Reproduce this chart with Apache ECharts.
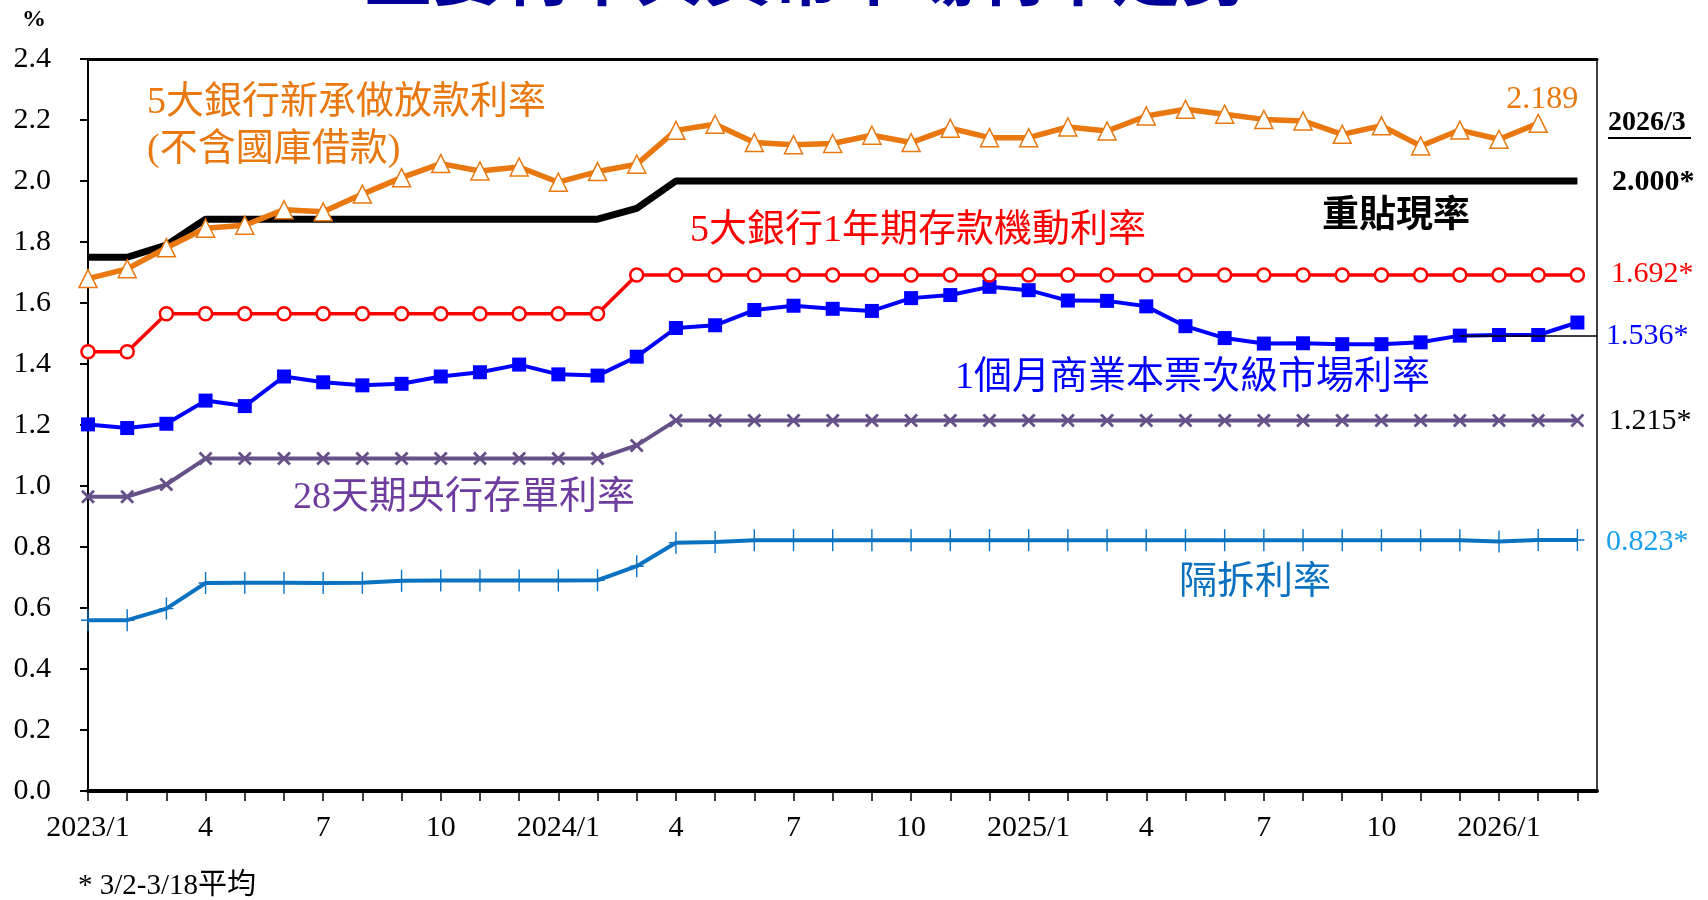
<!DOCTYPE html>
<html>
<head>
<meta charset="utf-8">
<script src="https://cdn.jsdelivr.net/npm/echarts@6/dist/echarts.min.js"></script>
<style>
html,body{margin:0;padding:0;background:#fff;}
#chart{width:1708px;height:900px;}
</style>
</head>
<body>
<div id="chart"></div>
<script>
// ---- data ----
const months = ['2023/1','2023/2','2023/3','2023/4','2023/5','2023/6','2023/7','2023/8','2023/9','2023/10','2023/11','2023/12',
  '2024/1','2024/2','2024/3','2024/4','2024/5','2024/6','2024/7','2024/8','2024/9','2024/10','2024/11','2024/12',
  '2025/1','2025/2','2025/3','2025/4','2025/5','2025/6','2025/7','2025/8','2025/9','2025/10','2025/11','2025/12',
  '2026/1','2026/2','2026/3'];
const xTickLabels = ['2023/1','','','4','','','7','','','10','','',
  '2024/1','','','4','','','7','','','10','','',
  '2025/1','','','4','','','7','','','10','','',
  '2026/1','',''];

const loanRate = [1.680,1.712,1.781,1.845,1.855,1.906,1.899,1.957,2.011,2.057,2.033,2.046,
  1.996,2.031,2.055,2.166,2.186,2.126,2.119,2.123,2.150,2.126,2.173,2.142,
  2.142,2.177,2.164,2.213,2.235,2.219,2.202,2.197,2.153,2.181,2.115,2.167,
  2.137,2.189];
const discountRate = [1.750,1.750,1.790,1.875,1.875,1.875,1.875,1.875,1.875,1.875,1.875,1.875,
  1.875,1.875,1.910,2.000,2.000,2.000,2.000,2.000,2.000,2.000,2.000,2.000,
  2.000,2.000,2.000,2.000,2.000,2.000,2.000,2.000,2.000,2.000,2.000,2.000,
  2.000,2.000,2.000];
const depositRate = [1.440,1.440,1.565,1.565,1.565,1.565,1.565,1.565,1.565,1.565,1.565,1.565,
  1.565,1.565,1.692,1.692,1.692,1.692,1.692,1.692,1.692,1.692,1.692,1.692,
  1.692,1.692,1.692,1.692,1.692,1.692,1.692,1.692,1.692,1.692,1.692,1.692,
  1.692,1.692,1.692];
const cpRate = [1.202,1.190,1.204,1.280,1.262,1.359,1.340,1.330,1.335,1.359,1.373,1.398,
  1.366,1.362,1.424,1.518,1.527,1.577,1.591,1.581,1.574,1.616,1.626,1.653,
  1.642,1.608,1.607,1.589,1.524,1.485,1.467,1.468,1.465,1.465,1.471,1.493,
  1.495,1.495,1.536];
const cdRate = [0.965,0.965,1.005,1.090,1.090,1.090,1.090,1.090,1.090,1.090,1.090,1.090,
  1.090,1.090,1.133,1.215,1.215,1.215,1.215,1.215,1.215,1.215,1.215,1.215,
  1.215,1.215,1.215,1.215,1.215,1.215,1.215,1.215,1.215,1.215,1.215,1.215,
  1.215,1.215,1.215];
const overnightRate = [0.560,0.560,0.598,0.682,0.683,0.683,0.682,0.683,0.689,0.690,0.690,0.690,
  0.690,0.691,0.737,0.814,0.816,0.822,0.822,0.822,0.822,0.822,0.822,0.822,
  0.822,0.822,0.822,0.822,0.822,0.822,0.822,0.822,0.822,0.822,0.822,0.822,
  0.818,0.823,0.823];
const leaderLineValue = 1.493;

// ---- helpers ----
const SERIF = "'Liberation Serif','Noto Sans CJK TC',serif";
const pairs = arr => arr.map((v, i) => [i, v]);
const xMax = months.length - 0.5;
const tickIdx = months.map((m, i) => i);
const labelIdx = xTickLabels.map((l, i) => l ? i : -1).filter(i => i >= 0);

const C_ORANGE = '#E8780F', C_RED = '#FF0000', C_BLUE = '#0000FF',
      C_PURPLE = '#655188', C_PURPLE_TXT = '#6E3C9E', C_OVN = '#0B72C2', C_OVN_TXT = '#1AA0F0';

const xSymbol = 'path://M0,1.4 L1.4,0 L5,3.6 L8.6,0 L10,1.4 L6.4,5 L10,8.6 L8.6,10 L5,6.4 L1.4,10 L0,8.6 L3.6,5 Z';
const plusSymbol = 'path://M6.3,0 H7.7 V10.3 H14 V11.7 H7.7 V22 H6.3 V11.7 H0 V10.3 H6.3 Z';

const chart = echarts.init(document.getElementById('chart'), null, {renderer: 'canvas'});

function txt(text, x, y, color, size, weight) {
  return {
    type: 'text', x: x, y: y, z: 100,
    style: {
      text: text, fill: color, font: (weight ? weight + ' ' : '') + size + 'px ' + SERIF,
      textAlign: 'left', textVerticalAlign: 'middle'
    }
  };
}

const loanData = pairs(loanRate).map((p, i) => i === loanRate.length - 1 ? {
  value: p,
  label: {show: true, position: 'top', distance: -2, offset: [4, 0], color: C_ORANGE, fontFamily: SERIF, fontSize: 32,
          formatter: p => p.value[1].toFixed(3)}
} : p);

const option = {
  animation: false,
  backgroundColor: '#fff',
  grid: {left: 88, right: 111, top: 59, bottom: 109, show: true, borderColor: '#000', borderWidth: 1.5, backgroundColor: 'transparent'},
  xAxis: [{
    type: 'value', min: 0, max: xMax, interval: 1, position: 'bottom',
    axisLine: {show: true, onZero: false, lineStyle: {color: '#000', width: 4}},
    axisTick: {show: true, inside: false, length: 10, lineStyle: {color: '#000', width: 1.5}, customValues: tickIdx},
    axisLabel: {show: true, margin: 22, color: '#000', fontFamily: SERIF, fontSize: 30, customValues: labelIdx,
      formatter: v => xTickLabels[Math.round(v)] || ''},
    splitLine: {show: false}
  }, {
    type: 'value', min: 0, max: xMax, position: 'top',
    axisLine: {show: true, onZero: false, lineStyle: {color: '#000', width: 3}},
    axisTick: {show: false}, axisLabel: {show: false}, splitLine: {show: false}
  }],
  yAxis: {
    type: 'value', min: 0, max: 2.4, interval: 0.2,
    axisLine: {show: true, onZero: false, lineStyle: {color: '#000', width: 2}},
    axisTick: {show: true, inside: false, length: 8, lineStyle: {color: '#000', width: 2}},
    axisLabel: {margin: 37, color: '#000', fontFamily: SERIF, fontSize: 30, formatter: v => v.toFixed(1)},
    splitLine: {show: false}
  },
  series: [
    {name: '重貼現率', type: 'line', data: pairs(discountRate), showSymbol: false, symbol: 'none',
     lineStyle: {color: '#000', width: 7}, z: 2},
    {name: '28天期央行存單利率', type: 'line', data: pairs(cdRate), symbol: xSymbol, symbolSize: 14,
     itemStyle: {color: C_PURPLE}, lineStyle: {color: C_PURPLE, width: 4}, z: 3},
    {name: '隔拆利率', type: 'line', data: pairs(overnightRate), symbol: plusSymbol, symbolSize: [14, 22], symbolKeepAspect: false,
     itemStyle: {color: C_OVN}, lineStyle: {color: C_OVN, width: 4}, z: 3},
    {name: '1個月商業本票次級市場利率', type: 'line', data: pairs(cpRate), symbol: 'rect', symbolSize: 14,
     itemStyle: {color: C_BLUE}, lineStyle: {color: C_BLUE, width: 4}, z: 4,
     markLine: {silent: true, symbol: 'none', label: {show: false},
       lineStyle: {color: '#000', width: 1.5, type: 'solid'},
       data: [[{coord: [35, leaderLineValue]}, {coord: [xMax, leaderLineValue]}]]}},
    {name: '5大銀行1年期存款機動利率', type: 'line', data: pairs(depositRate), symbol: 'circle', symbolSize: 13,
     itemStyle: {color: '#fff', borderColor: C_RED, borderWidth: 2.5}, lineStyle: {color: C_RED, width: 3.5}, z: 5},
    {name: '5大銀行新承做放款利率', type: 'line', data: loanData, symbol: 'triangle', symbolSize: 18,
     itemStyle: {color: '#fff', borderColor: C_ORANGE, borderWidth: 1.5}, lineStyle: {color: C_ORANGE, width: 5.5}, z: 6}
  ],
  graphic: [
    {type: 'text', x: 806, y: 16, z: 100, style: {text: '主要利率與貨幣市場利率走勢', fill: '#000099',
      font: 'bold 68px ' + SERIF, textAlign: 'center', textVerticalAlign: 'bottom'}},
    txt('%', 22, 20, '#000', 24, 'bold'),
    txt('5大銀行新承做放款利率', 147, 103, C_ORANGE, 38),
    txt('(不含國庫借款)', 147, 150, C_ORANGE, 38),
    txt('2026/3', 1608, 123, '#000', 28, 'bold'),
    {type: 'line', z: 100, shape: {x1: 1608, y1: 138, x2: 1691, y2: 138}, style: {stroke: '#000', lineWidth: 2}},
    txt('2.000*', 1612, 182, '#000', 30, 'bold'),
    txt('重貼現率', 1322, 217, '#000', 37, 'bold'),
    txt('5大銀行1年期存款機動利率', 690, 231, C_RED, 38),
    txt('1.692*', 1611, 274, C_RED, 30),
    txt('1.536*', 1606, 336, C_BLUE, 30),
    txt('1個月商業本票次級市場利率', 955, 378, C_BLUE, 38),
    txt('1.215*', 1609, 421, '#000', 30),
    txt('28天期央行存單利率', 293, 498, C_PURPLE_TXT, 38),
    txt('0.823*', 1606, 542, C_OVN_TXT, 30),
    txt('隔拆利率', 1179, 583, C_OVN, 38),
    txt('* 3/2-3/18平均', 78, 886, '#000', 29)
  ]
};
chart.setOption(option);
</script>
</body>
</html>
